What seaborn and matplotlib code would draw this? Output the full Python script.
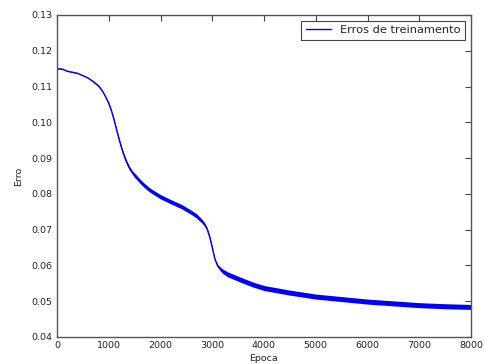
import matplotlib.pyplot as plt
import seaborn as sns
import pandas as pd
import numpy as np

# Values
epocas = [0, 100, 200, 300, 400, 526, 600, 700, 800, 850, 900, 950, 1000, 1050,
          1100, 1150, 1200, 1250, 1300, 1350, 1400, 1450, 1500, 1600, 1700, 1800,
          2000, 2200, 2400, 2600, 2700, 2750, 2800, 2850, 2900, 2950, 3000, 3050,
          3100, 3150, 3200, 3300, 3400, 3600, 3800, 4000, 4500, 5000, 5500, 6000,
          6500, 7000, 7500, 8000]
erro = [0.1150, 0.1149, 0.1143, 0.1140, 0.1137, 0.1129, 0.1124, 0.1114, 0.1102,
        0.1093, 0.1082, 0.1068, 0.1053, 0.1033, 0.1008, 0.0980, 0.0952, 0.0927,
        0.0905, 0.0887, 0.0872, 0.0861, 0.0852, 0.0836, 0.0822, 0.0810, 0.0792,
        0.0778, 0.0765, 0.0748, 0.0738, 0.0731, 0.0724, 0.0715, 0.0702, 0.0680,
        0.0650, 0.0618, 0.0600, 0.0591, 0.0584, 0.0575, 0.0569, 0.0557, 0.0546,
        0.0537, 0.0524, 0.0513, 0.0506, 0.0499, 0.0494, 0.0489, 0.0486, 0.0484]
# half width of the noisy band around the curve
ruido = [0.0001, 0.0001, 0.0001, 0.0001, 0.0001, 0.0001, 0.0001, 0.0002, 0.0002,
         0.0002, 0.0002, 0.0002, 0.0003, 0.0003, 0.0003, 0.0003, 0.0004, 0.0004,
         0.0005, 0.0005, 0.0005, 0.0005, 0.0006, 0.0006, 0.0006, 0.0006, 0.0006,
         0.0006, 0.0006, 0.0006, 0.0006, 0.0006, 0.0005, 0.0005, 0.0004, 0.0004,
         0.0003, 0.0003, 0.0004, 0.0005, 0.0006, 0.0007, 0.0007, 0.0007, 0.0007,
         0.0007, 0.0007, 0.0007, 0.0007, 0.0007, 0.0007, 0.0007, 0.0007, 0.0007]

df = pd.DataFrame({'Epoca': epocas, 'Erro': erro, 'Ruido': ruido})
df['Baixo'] = df['Erro'] - df['Ruido']
df['Alto'] = df['Erro'] + df['Ruido']

sns.set_style('white')
plt.rcParams['font.family'] = ['DejaVu Sans']

fig = plt.figure(figsize=(4.85, 3.64), dpi=100)
ax = fig.add_axes([57 / 485, 27 / 364, 414 / 485, 322 / 364])

sns.lineplot(data=df, x='Epoca', y='Erro', color='#0000ff', lw=1,
             label='Erros de treinamento', ax=ax)
ax.fill_between(df['Epoca'], df['Baixo'], df['Alto'], color='#0000ff', lw=0)

ax.set_xlim(0, 8000)
ax.set_ylim(0.04, 0.13)
ax.set_xticks(np.arange(0, 8001, 1000))
ax.set_yticks(np.arange(0.04, 0.1301, 0.01))
ax.set_yticklabels([f'{v:.2f}' for v in np.arange(0.04, 0.1301, 0.01)])

ax.tick_params(direction='in', top=True, right=True, length=4, width=0.8,
               color='#444444', labelsize=6.8, labelcolor='#222222', pad=3)
for s in ax.spines.values():
    s.set_color('#555555')
    s.set_linewidth(1)

ax.set_xlabel('Epoca', fontsize=6.8, color='#222222', labelpad=3)
ax.set_ylabel('Erro', fontsize=6.8, color='#222222', labelpad=6)

leg = ax.legend(loc='upper right', fancybox=False, fontsize=8.2, framealpha=1,
                edgecolor='#444444', borderaxespad=0.5, handlelength=2.2)
leg.get_frame().set_linewidth(0.8)

fig.savefig('out.png', dpi=100)
